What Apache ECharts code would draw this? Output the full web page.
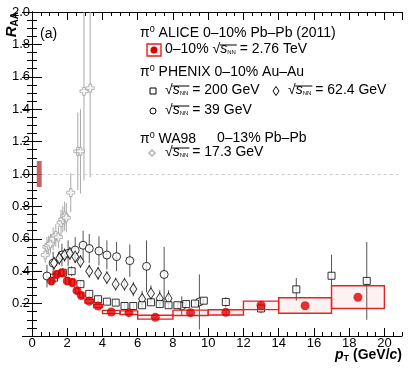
<!DOCTYPE html>
<html>
<head>
<meta charset="utf-8">
<script src="https://cdn.jsdelivr.net/npm/echarts@6/dist/echarts.min.js"></script>
<style>
  html, body { margin: 0; padding: 0; background: #fff; }
  #chart { width: 411px; height: 368px; }
</style>
</head>
<body>
<div id="chart"></div>
<script>
// ALICE pi0 0-10% Pb-Pb 2.76 TeV
const alicePt = [1.1, 1.4, 1.7, 2.0, 2.3, 2.55, 2.8, 3.25, 3.75, 4.5, 5.5, 7.0, 9.0, 11.0, 13.0, 15.5, 18.5]
const aliceRaa = [0.34, 0.38, 0.39, 0.34, 0.33, 0.28, 0.25, 0.215, 0.185, 0.148, 0.144, 0.115, 0.144, 0.146, 0.19, 0.187, 0.239]
const aliceBinLo = [1.0, 1.3, 1.6, 1.9, 2.2, 2.45, 2.7, 3.0, 3.5, 4.0, 5.0, 6.0, 8.0, 10.0, 12.0, 14.0, 17.0]
const aliceBinHi = [1.2, 1.5, 1.8, 2.1, 2.4, 2.65, 2.9, 3.5, 4.0, 5.0, 6.0, 8.0, 10.0, 12.0, 14.0, 17.0, 20.0]
const aliceSysLo = [0.32, 0.36, 0.37, 0.32, 0.31, 0.265, 0.235, 0.203, 0.175, 0.138, 0.133, 0.104, 0.127, 0.13, 0.163, 0.14, 0.17]
const aliceSysHi = [0.36, 0.40, 0.41, 0.36, 0.35, 0.295, 0.265, 0.227, 0.195, 0.158, 0.155, 0.128, 0.16, 0.162, 0.215, 0.236, 0.31]
const aliceNorm = [0.27, 0.55, 0.92, 1.08] // ptLo, ptHi, raaLo, raaHi

// PHENIX 200 GeV
const phx200Pt = [1.25, 1.75, 2.25, 2.75, 3.25, 3.75, 4.25, 4.75, 5.25, 5.75, 6.25, 6.75, 7.25, 7.75, 8.25, 8.75, 9.25, 9.75, 11, 13, 15, 17, 19]
const phx200Raa = [0.36, 0.39, 0.40, 0.32, 0.26, 0.227, 0.212, 0.206, 0.185, 0.185, 0.19, 0.208, 0.197, 0.19, 0.19, 0.197, 0.2, 0.218, 0.21, 0.17, 0.288, 0.372, 0.34]
const phx200Err = [0.03, 0.03, 0.03, 0.025, 0.02, 0.02, 0.02, 0.02, 0.02, 0.02, 0.02, 0.02, 0.02, 0.02, 0.02, 0.02, 0.02, 0.02, 0.03, 0.03, 0.07, 0.13, 0.24]

// PHENIX 62.4 GeV
const phx62Pt = [1.25, 1.55, 1.85, 2.15, 2.45, 2.75, 3.25, 3.75, 4.25, 4.75, 5.25, 5.75, 6.25, 6.75, 7.25, 7.75]
const phx62Raa = [0.45, 0.48, 0.50, 0.51, 0.49, 0.46, 0.40, 0.387, 0.36, 0.32, 0.32, 0.29, 0.228, 0.263, 0.232, 0.232]
const phx62Err = [0.04, 0.04, 0.04, 0.04, 0.04, 0.04, 0.04, 0.04, 0.04, 0.04, 0.04, 0.045, 0.05, 0.05, 0.05, 0.05]

// PHENIX 39 GeV
const phx39Pt = [0.85, 1.2, 1.7, 2.05, 2.45, 2.9, 3.25, 3.8, 4.25, 4.8, 5.55, 6.5, 7.5, 8.5, 9.5]
const phx39Raa = [0.37, 0.45, 0.50, 0.51, 0.53, 0.56, 0.54, 0.525, 0.50, 0.49, 0.465, 0.43, 0.38, 0.185, 0.21]
const phx39Err = [0.07, 0.07, 0.07, 0.08, 0.08, 0.09, 0.09, 0.09, 0.09, 0.09, 0.1, 0.16, 0.17, 0.06, 0.17]

// WA98 17.3 GeV
const wa98Pt = [0.75, 0.85, 0.95, 1.05, 1.2, 1.35, 1.5, 1.65, 1.75, 1.85, 1.95, 2.2, 2.6, 2.75, 2.95, 3.3]
const wa98Raa = [0.50, 0.55, 0.56, 0.57, 0.60, 0.62, 0.61, 0.70, 0.72, 0.74, 0.73, 0.885, 1.14, 1.14, 1.51, 1.53]
const wa98Err = [0.05, 0.06, 0.06, 0.06, 0.07, 0.07, 0.07, 0.08, 0.08, 0.09, 0.09, 0.12, 0.24, 0.26, 0.55, 0.55]

const yTicks = [0.2, 0.4, 0.6, 0.8, 1.0, 1.2, 1.4, 1.6, 1.8, 2.0]

const FONT = '"Liberation Sans", Arial, sans-serif'
const FS = 14
const crossPath = 'path://M1,0 H2 V1 H3 V2 H2 V3 H1 V2 H0 V1 H1 Z'

const zip = (a, b, c) => a.map((v, i) => c ? [v, b[i], c[i]] : [v, b[i]])

// text width helper for the sqrt overline
const mctx = document.createElement('canvas').getContext('2d')
function tw(str, size, style) {
  mctx.font = (style || '') + ' ' + size + 'px ' + FONT
  return mctx.measureText(str).width
}

function errBar(color) {
  return function(params, api) {
    const x = api.value(0), y = api.value(1), e = api.value(2)
    const p1 = api.coord([x, y - e])
    const p2 = api.coord([x, y + e])
    return {
      type: 'line',
      shape: { x1: p1[0], y1: p1[1], x2: p2[0], y2: p2[1] },
      style: { stroke: color, lineWidth: 1 }
    }
  }
}

function sysBox(params, api) {
  const a = api.coord([api.value(0), api.value(3)])
  const b = api.coord([api.value(1), api.value(2)])
  return {
    type: 'rect',
    shape: { x: a[0], y: a[1], width: b[0] - a[0], height: b[1] - a[1] },
    style: { stroke: '#e02525', lineWidth: 1.4, fill: 'rgba(240,80,80,0.08)' }
  }
}

const rich = {
  t: { fontSize: FS, fontFamily: FONT, color: '#000' },
  sup: { fontSize: 9, fontFamily: FONT, color: '#000', padding: [0, 0, 7, 0] },
  r: { fontSize: FS, fontFamily: FONT, color: '#000' },
  s: { fontSize: FS, fontFamily: FONT, fontStyle: 'italic', color: '#000' },
  n: { fontSize: 6, fontFamily: FONT, color: '#000', padding: [6, 0, 0, 0] }
}
const sq = '{r|√}{s|s}{n|NN}{t| = '

function txt(x, y, str) {
  return { type: 'text', x: x, y: y, style: { text: str, rich: rich, fontSize: FS, fontFamily: FONT }, z: 10 }
}

// sqrt text plus overline bar over s_NN
function sqrtText(x, y, prefix, rest) {
  const x0 = x + (prefix ? tw(prefix, FS) : 0) + tw('√', FS) - 0.5
  const x1 = x0 + 0.5 + tw('s', FS, 'italic') + tw('NN', 6) + 1
  return [
    txt(x, y, (prefix ? '{t|' + prefix + '}' : '') + sq + rest + '}'),
    { type: 'line', shape: { x1: x0, y1: y + 3, x2: x1, y2: y + 3 }, style: { stroke: '#000', lineWidth: 1 }, z: 10 }
  ]
}

const chart = echarts.init(document.getElementById('chart'))

const tickAxisX = (pos, major) => ({
  type: 'value', min: 0, max: 21, interval: major ? 2 : 0.5, position: pos,
  axisLine: { show: major, lineStyle: { color: '#000', width: 1 } },
  axisTick: { show: true, inside: true, length: major ? 8 : 4, lineStyle: { color: '#000' } },
  axisLabel: { show: major && pos === 'bottom', color: '#000', fontSize: 13, fontFamily: FONT, margin: 1, showMaxLabel: false },
  splitLine: { show: false }
})
const tickAxisY = (pos) => ({
  type: 'value', min: 0, max: 2, interval: 0.2, position: pos,
  axisLine: { show: true, lineStyle: { color: '#000', width: 1 } },
  axisTick: { show: true, inside: true, length: 10, lineStyle: { color: '#000' } },
  minorTick: { show: true, splitNumber: 4, length: 5, lineStyle: { color: '#000' } },
  axisLabel: {
    show: pos === 'left', color: '#000', fontSize: 13, fontFamily: FONT, margin: 2, showMinLabel: false,
    formatter: v => yTicks.some(t => Math.abs(t - v) < 1e-6) ? v.toFixed(1) : ''
  },
  splitLine: { show: false }
})

const option = {
  animation: false,
  grid: { left: 32, right: 9, top: 12, bottom: 32 },
  xAxis: [tickAxisX('bottom', true), tickAxisX('bottom', false), tickAxisX('top', true), tickAxisX('top', false)],
  yAxis: [tickAxisY('left'), tickAxisY('right')],
  series: [
    {
      type: 'custom', name: 'norm', renderItem: function(params, api) {
        const a = api.coord([api.value(0), api.value(3)])
        const b = api.coord([api.value(1), api.value(2)])
        return { type: 'rect', shape: { x: a[0], y: a[1], width: b[0] - a[0], height: b[1] - a[1] }, style: { fill: 'rgba(200,80,80,0.9)' } }
      },
      data: [aliceNorm], encode: { x: 0, y: 2 }, z: 2,
      markLine: {
        silent: true, symbol: 'none', label: { show: false },
        lineStyle: { color: '#cccccc', type: [3, 3], width: 1 },
        data: [[{ coord: [aliceNorm[1], 1.0] }, { coord: [21, 1.0] }]]
      }
    },
    { type: 'custom', renderItem: errBar('#a8a8a8'), data: zip(wa98Pt, wa98Raa, wa98Err), encode: { x: 0, y: 1 }, clip: true, z: 3 },
    { type: 'scatter', data: zip(wa98Pt, wa98Raa), symbol: crossPath, symbolSize: 8, itemStyle: { color: '#fff', borderColor: '#a0a0a0', borderWidth: 1 }, z: 4 },
    { type: 'custom', renderItem: errBar('#555'), data: zip(phx39Pt, phx39Raa, phx39Err), encode: { x: 0, y: 1 }, clip: true, z: 5 },
    { type: 'custom', renderItem: errBar('#555'), data: zip(phx62Pt, phx62Raa, phx62Err), encode: { x: 0, y: 1 }, clip: true, z: 5 },
    { type: 'custom', renderItem: errBar('#555'), data: zip(phx200Pt, phx200Raa, phx200Err), encode: { x: 0, y: 1 }, clip: true, z: 5 },
    { type: 'scatter', data: zip(phx39Pt, phx39Raa), symbol: 'circle', symbolSize: 8, itemStyle: { color: '#fff', borderColor: '#000', borderWidth: 1 }, z: 6 },
    { type: 'scatter', data: zip(phx62Pt, phx62Raa), symbol: 'diamond', symbolSize: [7, 11], itemStyle: { color: '#fff', borderColor: '#000', borderWidth: 1 }, z: 6 },
    { type: 'scatter', data: zip(phx200Pt, phx200Raa), symbol: 'rect', symbolSize: 7, itemStyle: { color: '#fff', borderColor: '#000', borderWidth: 1 }, z: 6 },
    {
      type: 'custom', renderItem: sysBox, encode: { x: 0, y: 2 }, clip: true, z: 7,
      data: alicePt.map((p, i) => [aliceBinLo[i], aliceBinHi[i], aliceSysLo[i], aliceSysHi[i]])
    },
    { type: 'scatter', data: zip(alicePt, aliceRaa), symbol: 'circle', symbolSize: 9, itemStyle: { color: '#dd0000' }, z: 8 }
  ],
  graphic: [
    {
      type: 'text', x: 3, y: 12, rotation: Math.PI / 2, z: 10,
      style: {
        text: '{R|R}{A|AA}', align: 'right', verticalAlign: 'top',
        rich: {
          R: { fontSize: 15, fontWeight: 'bold', fontStyle: 'italic', fontFamily: FONT, color: '#000' },
          A: { fontSize: 10, fontWeight: 'bold', fontFamily: FONT, color: '#000', padding: [7, 0, 0, 0] }
        }
      }
    },
    {
      type: 'text', x: 402, y: 347, z: 10,
      style: {
        text: '{p|p}{T|T}{b| (GeV/}{c|c}{b|)}', align: 'right',
        rich: {
          p: { fontSize: 14, fontWeight: 'bold', fontStyle: 'italic', fontFamily: FONT, color: '#000' },
          T: { fontSize: 9, fontWeight: 'bold', fontFamily: FONT, color: '#000', padding: [7, 0, 0, 0] },
          b: { fontSize: 14, fontWeight: 'bold', fontFamily: FONT, color: '#000' },
          c: { fontSize: 14, fontWeight: 'bold', fontStyle: 'italic', fontFamily: FONT, color: '#000' }
        }
      }
    },
    txt(40, 27, '{t|(a)}'),
    txt(140, 25, '{t|π}{sup|0}{t| ALICE 0–10% Pb–Pb (2011)}'),
    { type: 'rect', shape: { x: 147, y: 44, width: 14, height: 12 }, style: { stroke: '#e02525', lineWidth: 1.4, fill: 'rgba(240,80,80,0.08)' }, z: 10 },
    { type: 'circle', shape: { cx: 154, cy: 50, r: 3.5 }, style: { fill: '#dd0000' }, z: 11 },
    ...sqrtText(165, 42, '0–10% ', '2.76 TeV'),
    txt(140, 64, '{t|π}{sup|0}{t| PHENIX 0–10% Au–Au}'),
    { type: 'rect', shape: { x: 150, y: 88, width: 6, height: 6 }, style: { stroke: '#000', lineWidth: 1, fill: '#fff' }, z: 10 },
    ...sqrtText(165, 83, '', '200 GeV'),
    { type: 'polygon', shape: { points: [[276, 86.5], [279, 91], [276, 95.5], [273, 91]] }, style: { stroke: '#000', lineWidth: 1, fill: '#fff' }, z: 10 },
    ...sqrtText(288, 83, '', '62.4 GeV'),
    { type: 'circle', shape: { cx: 153, cy: 111, r: 3 }, style: { stroke: '#000', lineWidth: 1, fill: '#fff' }, z: 10 },
    ...sqrtText(165, 103, '', '39 GeV'),
    txt(140, 131, '{t|π}{sup|0}{t| WA98}'),
    txt(217, 131, '{t|0–13% Pb–Pb}'),
    { type: 'polygon', shape: { points: [[151, 150], [153, 150], [153, 152], [155, 152], [155, 154], [153, 154], [153, 156], [151, 156], [151, 154], [149, 154], [149, 152], [151, 152]] }, style: { stroke: '#a0a0a0', lineWidth: 1, fill: '#fff' }, z: 10 },
    ...sqrtText(165, 145, '', '17.3 GeV')
  ]
}

chart.setOption(option)
</script>
</body>
</html>
